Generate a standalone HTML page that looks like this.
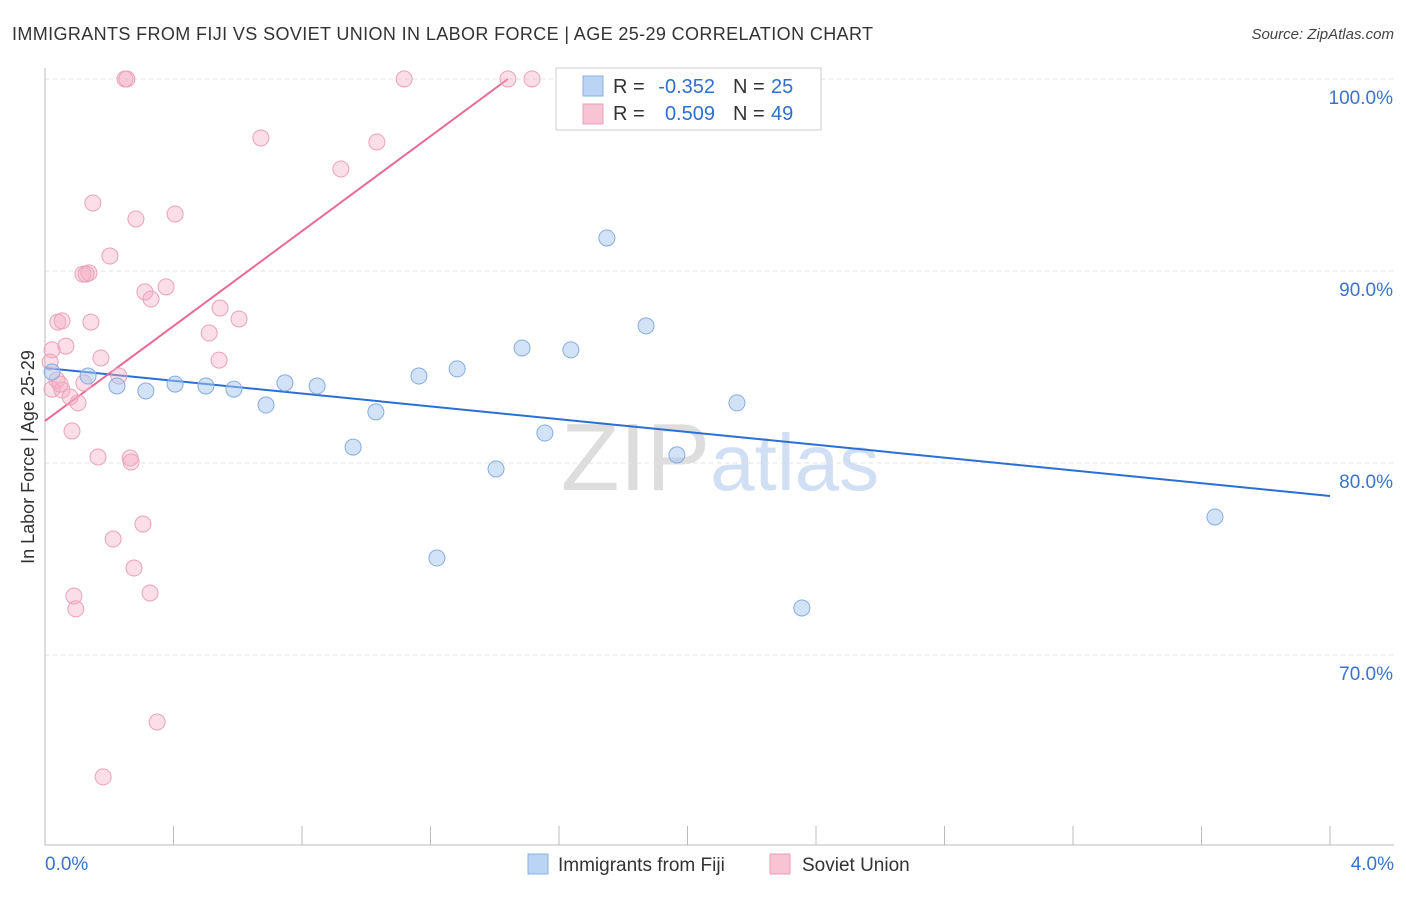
<!DOCTYPE html>
<html><head><meta charset="utf-8"><style>
body{margin:0;background:#fff;font-family:"Liberation Sans",sans-serif}
svg text{font-family:"Liberation Sans",sans-serif}
</style></head><body>
<svg id="chart" width="1406" height="892" viewBox="0 0 1406 892" xmlns="http://www.w3.org/2000/svg">
<text x="12" y="40" font-size="18" fill="#333" textLength="861" lengthAdjust="spacing">IMMIGRANTS FROM FIJI VS SOVIET UNION IN LABOR FORCE | AGE 25-29 CORRELATION CHART</text>
<text x="1394" y="39" font-size="15" fill="#444" text-anchor="end" font-style="italic">Source: ZipAtlas.com</text>
<text transform="translate(34,457) rotate(-90)" font-size="18" fill="#333" text-anchor="middle">In Labor Force | Age 25-29</text>
<text x="720" y="490" font-size="96" fill="#ddd" text-anchor="middle" font-family="Liberation Serif">ZIP<tspan fill="#d0dff3" font-family="Liberation Sans" font-size="80">atlas</tspan></text>
<g id="grid"></g><g id="axes"></g><g id="lines"></g><g id="points"></g>
<g>
<rect x="556" y="68" width="265" height="62" fill="#fff" stroke="#ccc"/>
<rect x="583" y="76" width="20" height="20" fill="#bcd4f4" stroke="#8ab0e0"/>
<rect x="583" y="104" width="20" height="20" fill="#f8c4d4" stroke="#e8a0b8"/>
<text x="613" y="93" font-size="20" fill="#333">R =</text>
<text x="715" y="93" font-size="20" fill="#2f6fd0" text-anchor="end">-0.352</text>
<text x="733" y="93" font-size="20" fill="#333">N =</text>
<text x="771" y="93" font-size="20" fill="#2f6fd0">25</text>
<text x="613" y="120" font-size="20" fill="#333">R =</text>
<text x="715" y="120" font-size="20" fill="#2f6fd0" text-anchor="end">0.509</text>
<text x="733" y="120" font-size="20" fill="#333">N =</text>
<text x="771" y="120" font-size="20" fill="#2f6fd0">49</text>
</g>
<g>
<rect x="528" y="854" width="20" height="20" fill="#bcd4f4" stroke="#8ab0e0"/>
<text x="558" y="871" font-size="19" fill="#333">Immigrants from Fiji</text>
<rect x="770" y="854" width="20" height="20" fill="#f8c4d4" stroke="#e8a0b8"/>
<text x="802" y="871" font-size="19" fill="#333">Soviet Union</text>
</g>
</svg>
<script>
const yTicks=[100,90,80,70];
const yTickLabels=["100.0%","90.0%","80.0%","70.0%"];
const xTickLabels=["0.0%","4.0%"];
const fijiX=[0.022,0.134,0.224,0.314,0.405,0.501,0.588,0.688,0.747,0.847,0.959,1.030,1.164,1.283,1.404,1.485,1.556,1.637,1.749,1.871,1.967,2.154,2.356,3.642,1.220];
const fijiY=[84.74,84.53,84.01,83.75,84.11,84.01,83.85,83.02,84.17,84.01,80.83,82.66,84.53,84.90,79.69,85.99,81.56,85.89,91.72,87.14,80.42,83.13,72.45,77.19,75.05];
const sovX=[0.249,0.255,1.118,1.441,1.516,0.672,1.033,0.921,0.149,0.283,0.405,0.202,0.118,0.137,0.128,0.311,0.377,0.330,0.545,0.040,0.053,0.143,0.604,0.511,0.065,0.022,0.174,0.016,0.542,0.230,0.037,0.022,0.053,0.078,0.103,0.084,0.165,0.265,0.268,0.305,0.212,0.277,0.090,0.327,0.096,0.349,0.181,0.121,0.047];
const sovY=[100,100,100,100,100,96.93,96.72,95.31,93.54,92.71,92.97,90.78,89.84,89.90,89.84,88.91,89.17,88.54,88.07,87.34,87.40,87.34,87.50,86.77,86.09,85.89,85.47,85.26,85.36,84.53,84.32,83.85,83.80,83.44,83.13,81.67,80.31,80.26,80.05,76.82,76.04,74.53,73.07,73.23,72.40,66.51,63.65,84.17,84.11];
const fijiLine=[[0,84.95],[4,78.28]];
const sovLine=[[0,82.19],[1.441,100]];
const NS="http://www.w3.org/2000/svg";
const sx=v=>45+v/4*1285;
const sy=v=>79+(100-v)*19.2;
function mk(t,a,p){const e=document.createElementNS(NS,t);for(const k in a)e.setAttribute(k,a[k]);p.appendChild(e);return e;}
const grid=document.getElementById('grid'),axes=document.getElementById('axes'),lines=document.getElementById('lines'),pts=document.getElementById('points');
yTicks.forEach((t,i)=>{
 const g=mk('line',{x1:45,x2:1394,y1:sy(t),y2:sy(t),stroke:'#e2e2e2','stroke-dasharray':'4,4'},grid);
 
 
 const l=mk('text',{x:1393,y:sy(t)+25,'font-size':19,fill:'#3b73c8','text-anchor':'end'},axes);
 l.textContent=yTickLabels[i];
 
 
});
const ax=mk('line',{x1:45,x2:45,y1:68,y2:845,stroke:'#bbb'},axes);


const bx=mk('line',{x1:45,x2:1394,y1:845,y2:845,stroke:'#bbb'},axes);


for(let i=0;i<=10;i++){
 const t=mk('line',{x1:sx(i*0.4),x2:sx(i*0.4),y1:826,y2:845,stroke:'#bbb'},axes);
 
 
}
[[0,'start',45],[4,'end',1394]].forEach((d,i)=>{
 const t=mk('text',{x:d[2],y:870,'font-size':19,fill:'#3b73c8','text-anchor':d[1]},axes);
 t.textContent=xTickLabels[i];
 
 
});
sovX.forEach((x,i)=>{
 const c=mk('circle',{cx:sx(x),cy:sy(sovY[i]),r:8,fill:'rgba(244,172,196,0.4)',stroke:'#eaa2ba','stroke-width':1},pts);
 
 
});
fijiX.forEach((x,i)=>{
 const c=mk('circle',{cx:sx(x),cy:sy(fijiY[i]),r:8,fill:'rgba(168,200,240,0.5)',stroke:'#86ace0','stroke-width':1},pts);
 
 
});
const fl=mk('line',{x1:sx(fijiLine[0][0]),y1:sy(fijiLine[0][1]),x2:sx(fijiLine[1][0]),y2:sy(fijiLine[1][1]),stroke:'#2a6fd6','stroke-width':2},lines);


const sl=mk('line',{x1:sx(sovLine[0][0]),y1:sy(sovLine[0][1]),x2:sx(sovLine[1][0]),y2:sy(sovLine[1][1]),stroke:'#e86a96','stroke-width':2},lines);


</script>
</body></html>
